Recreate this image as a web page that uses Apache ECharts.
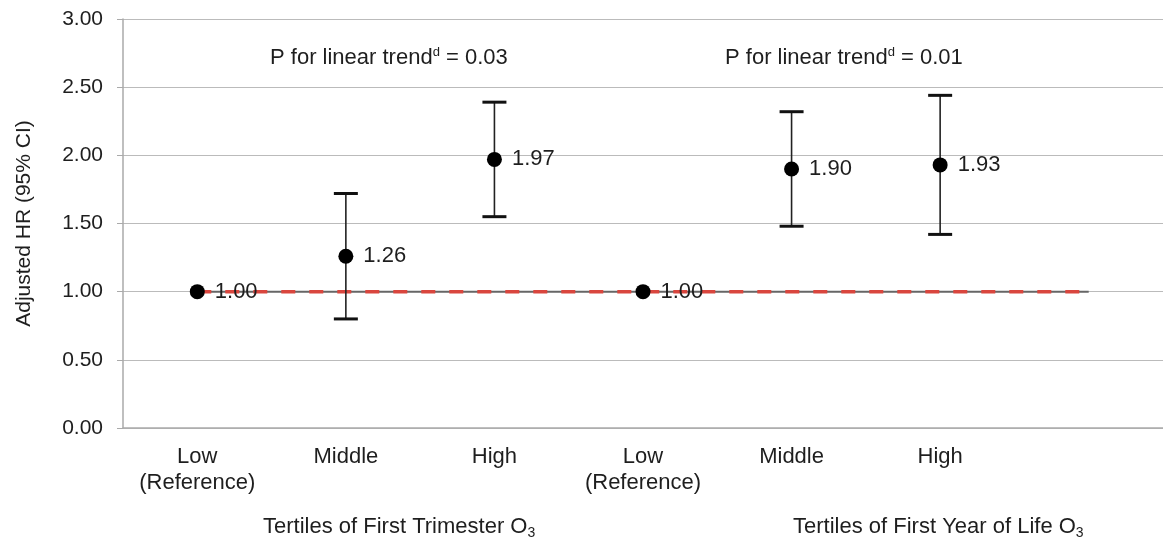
<!DOCTYPE html>
<html><head><meta charset="utf-8">
<script src="https://cdn.jsdelivr.net/npm/echarts@6/dist/echarts.min.js"></script>
<style>html,body{margin:0;padding:0;background:#fff}#c{width:1163px;height:544px}</style>
</head><body><div id="c"></div>
<script>
const categories = ['Low\n(Reference)', 'Middle', 'High', 'Low\n(Reference)', 'Middle', 'High', ''];
const hrValues = [1.00, 1.26, 1.97, 1.00, 1.90, 1.93, null];
const ciLower = [null, 0.80, 1.55, null, 1.48, 1.42, null];
const ciUpper = [null, 1.72, 2.39, null, 2.32, 2.44, null];
const refLine = [1, 1, 1, 1, 1, 1, 1];
const yTicks = {min: 0, max: 3, interval: 0.5};
const pTexts = ['0.03', '0.01'];
const groupTitles = ['Tertiles of First Trimester O', 'Tertiles of First Year of Life O'];

const FONT = 'Liberation Sans, Arial, sans-serif';
const TXT = '#1e1e1e';
const FS = 22;
const errData = [];
for (let i = 0; i < categories.length; i++) {
  if (ciLower[i] != null) errData.push([i, ciLower[i], ciUpper[i]]);
}
const pRich = {a: {fontSize: FS, fill: TXT, fontFamily: FONT}, s: {fontSize: 13, fill: TXT, fontFamily: FONT, verticalAlign: 'top', padding: [0, 0, 10, 0]}};
const tRich = {a: {fontSize: FS, fill: TXT, fontFamily: FONT}, s: {fontSize: 14, fill: TXT, fontFamily: FONT, padding: [12, 0, 0, 0]}};
const chart = echarts.init(document.getElementById('c'));
chart.setOption({
  animation: false,
  textStyle: {fontFamily: FONT},
  grid: {left: 123, right: 0, top: 19, bottom: 116},
  xAxis: {
    type: 'category', data: categories, boundaryGap: true,
    axisLine: {show: true, lineStyle: {color: '#aaa', width: 1.5}},
    axisTick: {show: false},
    axisLabel: {color: TXT, fontSize: FS, lineHeight: 26, margin: 16, fontFamily: FONT, interval: 0}
  },
  yAxis: {
    type: 'value', min: yTicks.min, max: yTicks.max, interval: yTicks.interval,
    name: 'Adjusted HR (95% CI)', nameLocation: 'middle', nameGap: 88,
    nameTextStyle: {color: TXT, fontSize: 21, fontFamily: FONT},
    axisLine: {show: true, lineStyle: {color: '#aaa', width: 1.5}},
    axisTick: {show: true, length: 6, lineStyle: {color: '#aaa'}},
    axisLabel: {color: TXT, fontSize: 21, margin: 20, fontFamily: FONT, formatter: v => v.toFixed(2)},
    splitLine: {show: true, lineStyle: {color: '#bbb', width: 1.2}}
  },
  series: [
    {type: 'line', data: refLine, symbol: 'none', z: 2,
     lineStyle: {color: '#666', width: 2}, silent: true},
    {type: 'line', data: refLine, symbol: 'none', z: 3,
     lineStyle: {color: '#d9463e', width: 3.5, type: [14, 14]}, silent: true},
    {type: 'custom', z: 4, data: errData,
     renderItem: function (params, api) {
       const x = api.value(0);
       const lo = api.coord([x, api.value(1)]);
       const hi = api.coord([x, api.value(2)]);
       const cw = 12;
       return {type: 'group', children: [
         {type: 'line', shape: {x1: lo[0], y1: lo[1], x2: hi[0], y2: hi[1]}, style: {stroke: '#222', lineWidth: 1.6}},
         {type: 'line', shape: {x1: lo[0] - cw, y1: lo[1], x2: lo[0] + cw, y2: lo[1]}, style: {stroke: '#111', lineWidth: 3}},
         {type: 'line', shape: {x1: hi[0] - cw, y1: hi[1], x2: hi[0] + cw, y2: hi[1]}, style: {stroke: '#111', lineWidth: 3}}
       ]};
     }},
    {type: 'scatter', z: 5, data: hrValues, symbol: 'circle', symbolSize: 15,
     itemStyle: {color: '#000', opacity: 1},
     label: {show: true, position: 'right', distance: 10, color: TXT, fontSize: FS, fontFamily: FONT,
             formatter: p => p.value == null ? '' : Number(p.value).toFixed(2)}}
  ],
  graphic: [
    {type: 'text', left: 270, top: 46, style: {text: '{a|P for linear trend}{s|d}{a| = ' + pTexts[0] + '}', rich: pRich}},
    {type: 'text', left: 725, top: 46, style: {text: '{a|P for linear trend}{s|d}{a| = ' + pTexts[1] + '}', rich: pRich}},
    {type: 'text', left: 263, top: 516, style: {text: '{a|' + groupTitles[0] + '}{s|3}', rich: tRich}},
    {type: 'text', left: 793, top: 516, style: {text: '{a|' + groupTitles[1] + '}{s|3}', rich: tRich}}
  ]
});
</script></body></html>
